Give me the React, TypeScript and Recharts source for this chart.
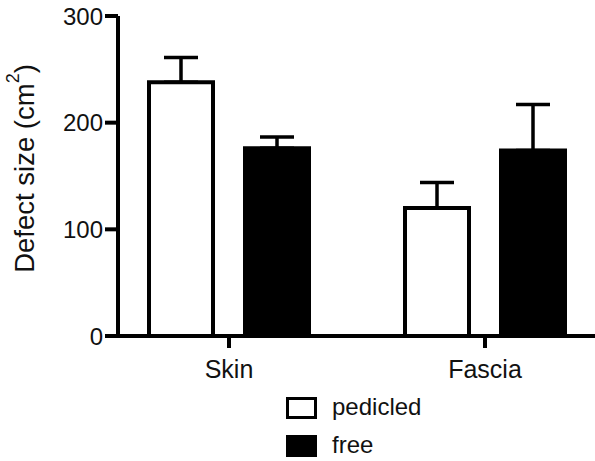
import React from 'react';
import { BarChart, Bar, XAxis, YAxis, ErrorBar, Legend } from 'recharts';

const categories = ['Skin', 'Fascia'];
const pedicledValues = [238, 120];
const pedicledErrors = [23, 24];
const freeValues = [176, 174];
const freeErrors = [10.5, 43];
const yTicks = [0, 100, 200, 300];
const seriesNames = ['pedicled', 'free'];

const data = categories.map((c, i) => ({
  name: c,
  pedicled: pedicledValues[i],
  pedErr: [0, pedicledErrors[i]],
  free: freeValues[i],
  freeErr: [0, freeErrors[i]],
}));

const FONT = '"Liberation Sans", Arial, Helvetica, sans-serif';
const TEXT = '#111';

const YLabel = (props: any) => {
  const vb = props.viewBox || { y: 16, height: 320 };
  const cx = 24;
  const cy = vb.y + vb.height / 2 - 7.5;
  return (
    <text
      x={cx}
      y={cy}
      transform={`rotate(-90 ${cx} ${cy})`}
      textAnchor="middle"
      dominantBaseline="central"
      fontSize={27.5}
      fontFamily={FONT}
      fill={TEXT}
    >
      Defect size (cm
      <tspan dy={-11} fontSize={18}>2</tspan>
      <tspan dy={11}>)</tspan>
    </text>
  );
};

const LegendContent = () => (
  <div style={{ fontFamily: FONT, color: TEXT }}>
    {seriesNames.map((n, i) => (
      <div key={n} style={{ display: 'flex', alignItems: 'center', height: 22, marginBottom: 16 }}>
        <div
          style={{
            width: 31,
            height: 22,
            boxSizing: 'border-box',
            border: '3.5px solid #000',
            background: i === 0 ? '#fff' : '#000',
          }}
        />
        <span style={{ fontSize: 24, marginLeft: 15, lineHeight: '22px', position: 'relative', top: -1 }}>{n}</span>
      </div>
    ))}
  </div>
);

export default function App() {
  return (
    <div style={{ position: 'absolute', left: 0, top: 0, background: '#fff' }}>
      <BarChart
        width={595}
        height={461}
        data={data}
        margin={{ top: 16, right: 0, bottom: 65, left: 0 }}
        barGap={32}
      >
        <XAxis
          dataKey="name"
          height={60}
          padding={{ left: -17, right: -18 }}
          axisLine={{ stroke: '#000', strokeWidth: 4 }}
          tickLine={{ stroke: '#000', strokeWidth: 4 }}
          tickSize={12}
          tickMargin={12}
          tick={{ fontSize: 25, fontFamily: FONT, fill: TEXT }}
        />
        <YAxis
          width={118}
          domain={[0, 300]}
          ticks={yTicks}
          interval={0}
          axisLine={{ stroke: '#000', strokeWidth: 4 }}
          tickLine={{ stroke: '#000', strokeWidth: 4 }}
          tickSize={13}
          tickMargin={2}
          tick={{ fontSize: 24, fontFamily: FONT, fill: TEXT }}
          label={{ content: YLabel }}
        />
        <Legend
          layout="vertical"
          align="center"
          verticalAlign="middle"
          content={LegendContent}
          wrapperStyle={{ left: 286, top: 397, width: 200, height: 80 }}
        />
        <Bar dataKey="pedicled" name="pedicled" fill="#fff" stroke="#000" strokeWidth={4} barSize={64} isAnimationActive={false}>
          <ErrorBar dataKey="pedErr" direction="y" width={17} stroke="#000" strokeWidth={3.5} isAnimationActive={false} />
        </Bar>
        <Bar dataKey="free" name="free" fill="#000" stroke="#000" strokeWidth={4} barSize={64} isAnimationActive={false}>
          <ErrorBar dataKey="freeErr" direction="y" width={17} stroke="#000" strokeWidth={3.5} isAnimationActive={false} />
        </Bar>
      </BarChart>
    </div>
  );
}
